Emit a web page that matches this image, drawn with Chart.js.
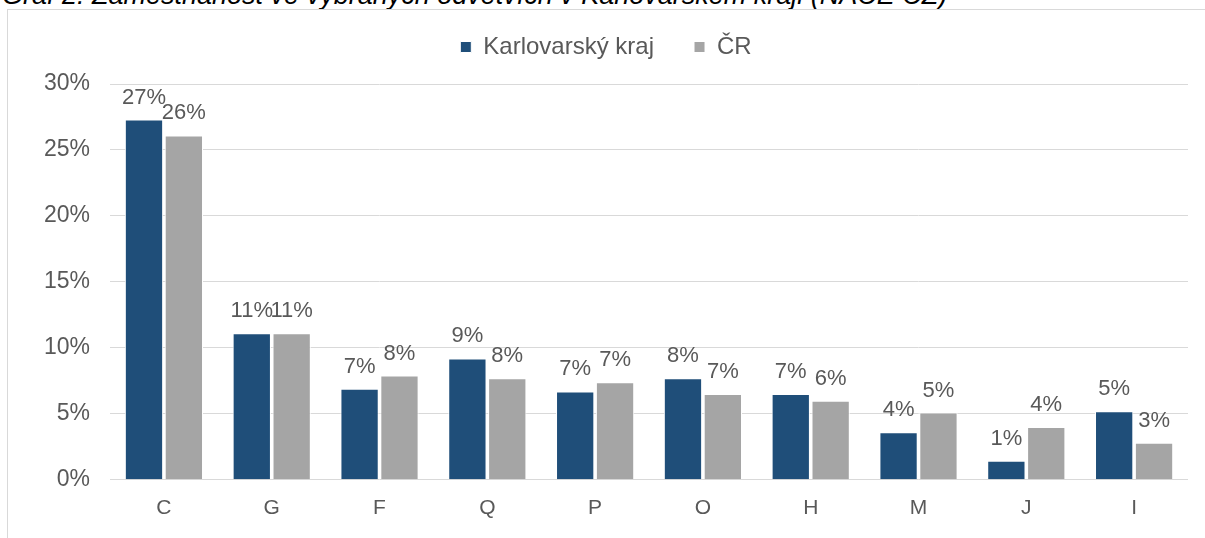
<!DOCTYPE html>
<html>
<head>
<meta charset="utf-8">
<script src="https://cdn.jsdelivr.net/npm/chart.js@4.4.1/dist/chart.umd.min.js"></script>
<style>
  html, body { margin: 0; padding: 0; background: #fff; overflow: hidden; }
  body { width: 1205px; height: 538px; position: relative; font-family: "Liberation Sans", Arial, sans-serif; }
  #title { position: absolute; left: 2px; top: -20px; font-size: 27px; line-height: 30px; font-style: italic; color: #000; white-space: nowrap; }
  #frame { position: absolute; left: 7px; top: 9px; width: 1205px; height: 540px; border: 1px solid #d9d9d9; box-sizing: border-box; }
  #wrap { position: absolute; left: 8px; top: 10px; width: 1197px; height: 528px; }
</style>
</head>
<body>
<div id="title">Graf 2: Zaměstnanost ve vybraných odvětvích v Karlovarském kraji (NACE CZ)</div>
<div id="frame"></div>
<div id="wrap"><canvas id="chart"></canvas></div>
<script>
const categories = ['C', 'G', 'F', 'Q', 'P', 'O', 'H', 'M', 'J', 'I'];
const karlovarsky = [27.3, 11.1, 6.9, 9.2, 6.7, 7.7, 6.5, 3.6, 1.45, 5.2];
const cr = [26.1, 11.1, 7.9, 7.7, 7.4, 6.5, 6.0, 5.1, 4.0, 2.8];
const yTicks = [0, 5, 10, 15, 20, 25, 30];

const textColor = '#595959';
const fontFamily = '"Liberation Sans", Arial, sans-serif';

// draws the rounded value above each bar
const barLabels = {
  id: 'barLabels',
  afterDatasetsDraw(chart) {
    const ctx = chart.ctx;
    ctx.save();
    ctx.font = '22px ' + fontFamily;
    ctx.fillStyle = textColor;
    ctx.textAlign = 'center';
    ctx.textBaseline = 'alphabetic';
    chart.data.datasets.forEach((ds, i) => {
      chart.getDatasetMeta(i).data.forEach((bar, j) => {
        ctx.fillText(Math.round(ds.data[j]) + '%', bar.x, bar.y - 16);
      });
    });
    ctx.restore();
  },
};

// fixed legend block height so the plot starts lower
const legendGap = {
  id: 'legendGap',
  beforeInit(chart) {
    const fit = chart.legend.fit;
    chart.legend.fit = function () {
      fit.bind(chart.legend)();
      this.height = 89;
    };
  },
};

new Chart(document.getElementById('chart'), {
  type: 'bar',
  data: {
    labels: categories,
    datasets: [
      {
        label: 'Karlovarský kraj',
        data: karlovarsky,
        backgroundColor: '#1f4e79',
        borderColor: '#ffffff',
        borderWidth: 1,
        categoryPercentage: 0.74,
        barPercentage: 0.96,
      },
      {
        label: 'ČR',
        data: cr,
        backgroundColor: '#a5a5a5',
        borderColor: '#ffffff',
        borderWidth: 1,
        categoryPercentage: 0.74,
        barPercentage: 0.96,
      },
    ],
  },
  options: {
    responsive: true,
    maintainAspectRatio: false,
    animation: false,
    layout: { padding: { left: 16, right: 17, top: -15, bottom: 1 } },
    plugins: {
      legend: {
        position: 'top',
        labels: {
          boxWidth: 11,
          boxHeight: 11,
          padding: 40,
          color: textColor,
          font: { size: 24, family: fontFamily },
        },
      },
      tooltip: { enabled: false },
    },
    scales: {
      x: {
        grid: { display: false, drawTicks: false },
        border: { display: false },
        ticks: {
          color: textColor,
          padding: 16,
          font: { size: 21, family: fontFamily },
        },
      },
      y: {
        min: 0,
        max: 30,
        border: { display: false },
        grid: { color: '#d9d9d9', drawTicks: false },
        afterBuildTicks: (axis) => {
          axis.ticks = yTicks.map((v) => ({ value: v }));
        },
        ticks: {
          color: textColor,
          padding: 20,
          font: { size: 23, family: fontFamily },
          callback: (v) => v + '%',
        },
      },
    },
  },
  plugins: [barLabels, legendGap],
});
</script>
</body>
</html>
